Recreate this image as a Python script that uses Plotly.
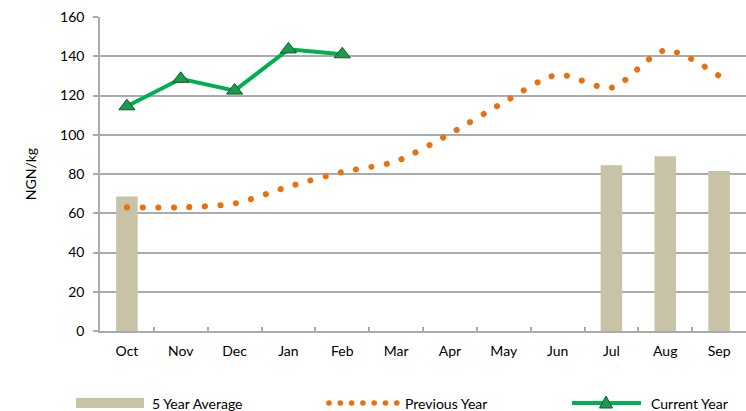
import plotly.graph_objects as go

months = ["Oct", "Nov", "Dec", "Jan", "Feb", "Mar", "Apr", "May", "Jun", "Jul", "Aug", "Sep"]
avg5_months = ["Oct", "Jul", "Aug", "Sep"]
avg5_values = [68.5, 84.5, 89, 81.5]
prev_values = [63, 63, 65, 73.5, 81, 86.5, 100.5, 116.5, 130.5, 124, 143, 130]
curr_months = ["Oct", "Nov", "Dec", "Jan", "Feb"]
curr_values = [114.5, 128.5, 122.5, 143.5, 141]
y_ticks = [0, 20, 40, 60, 80, 100, 120, 140, 160]
series_names = ["5 Year Average", "Previous Year", "Current Year"]

FONT = "Lato"
GRID = "#ababab"
BAR_C = "#c8c3a6"
PREV_C = "#e8700e"
CURR_C = "#00b050"
MARK_C = "#1e9a4c"
MARK_L = "#0b5a28"

W, H = 746, 411
ML, MR, MT, MB = 100, 0, 17, 80
PW, PH = W - ML - MR, H - MT - MB


def px(xp):
    return (xp - ML) / PW


def py(yp):
    return (H - MB - yp) / PH


fig = go.Figure()
fig.add_trace(go.Bar(
    x=avg5_months, y=avg5_values, name=series_names[0],
    marker=dict(color=BAR_C, line=dict(width=0)), width=0.4,
))
fig.add_trace(go.Scatter(
    x=months, y=prev_values, name=series_names[1], mode="lines",
    line=dict(color=PREV_C, width=6, dash="5px,10.5px", shape="spline", smoothing=0.8),
))
fig.add_trace(go.Scatter(
    x=curr_months, y=curr_values, name=series_names[2], mode="lines+markers",
    line=dict(color=CURR_C, width=4),
    marker=dict(symbol="triangle-up", size=14, color=MARK_C,
                line=dict(color=MARK_L, width=1)),
))

# ---- custom legend (swatches + labels) ----
LY = py(403)
shapes = []
annotations = []
shapes.append(dict(type="rect", xref="paper", yref="paper",
                   x0=px(76), x1=px(144), y0=py(408), y1=py(398),
                   fillcolor=BAR_C, line=dict(width=0)))
for i in range(7):
    shapes.append(dict(type="circle", xref="paper", yref="paper",
                       xsizemode="pixel", ysizemode="pixel",
                       xanchor=px(329 + i * 11.3), yanchor=LY,
                       x0=-2.8, x1=2.8, y0=-2.8, y1=2.8,
                       fillcolor=PREV_C, line=dict(width=0)))
shapes.append(dict(type="line", xref="paper", yref="paper",
                   x0=px(572), x1=px(641), y0=LY, y1=LY,
                   line=dict(color=CURR_C, width=4)))
shapes.append(dict(type="path", xref="paper", yref="paper",
                   xsizemode="pixel", ysizemode="pixel",
                   xanchor=px(606), yanchor=LY,
                   path="M -6.5 -5 L 6.5 -5 L 0 7 Z",
                   fillcolor=MARK_C, line=dict(color=MARK_L, width=1)))
for name, xl in zip(series_names, [150, 403, 649]):
    annotations.append(dict(text=name, xref="paper", yref="paper",
                            x=px(xl), y=LY, xanchor="left", yanchor="middle",
                            showarrow=False, font=dict(family=FONT, size=14, color="#000")))

fig.update_layout(
    width=W, height=H,
    margin=dict(l=ML, r=MR, t=MT, b=MB),
    paper_bgcolor="white", plot_bgcolor="white",
    font=dict(family=FONT, size=14, color="#000000"),
    showlegend=False,
    shapes=shapes, annotations=annotations,
    xaxis=dict(
        type="category", categoryorder="array", categoryarray=months,
        range=[-0.5, 11.5], automargin=False,
        showline=True, linecolor=GRID, linewidth=1.5,
        ticks="inside", tickson="boundaries", ticklen=4, tickcolor=GRID, tickwidth=1.5,
        showgrid=False, tickfont=dict(size=14), ticklabelstandoff=6,
    ),
    yaxis=dict(
        range=[0, 160], tickvals=y_ticks, automargin=False,
        showline=True, linecolor=GRID, linewidth=1.5,
        ticks="outside", ticklen=5, tickcolor=GRID, tickwidth=1.5,
        showgrid=True, gridcolor=GRID, gridwidth=1.5, zeroline=False,
        tickfont=dict(size=14), ticklabelstandoff=6,
        title=dict(text="NGN/kg", font=dict(size=14), standoff=20),
    ),
)

post = """
document.body.style.margin = '0';
document.body.style.padding = '0';
var gd = document.getElementsByClassName('plotly-graph-div')[0];
function roundDots(){
  var traces = gd.querySelectorAll('.scatterlayer .trace');
  if (traces.length > 0) {
    var p = traces[0].querySelector('path.js-line');
    if (p) { p.style.strokeLinecap = 'round'; p.style.strokeDasharray = '0.1px,15.5px'; }
  }
}
roundDots();
gd.on('plotly_afterplot', roundDots);
"""
fig.write_html("out.html", post_script=post, config={"displayModeBar": False})
